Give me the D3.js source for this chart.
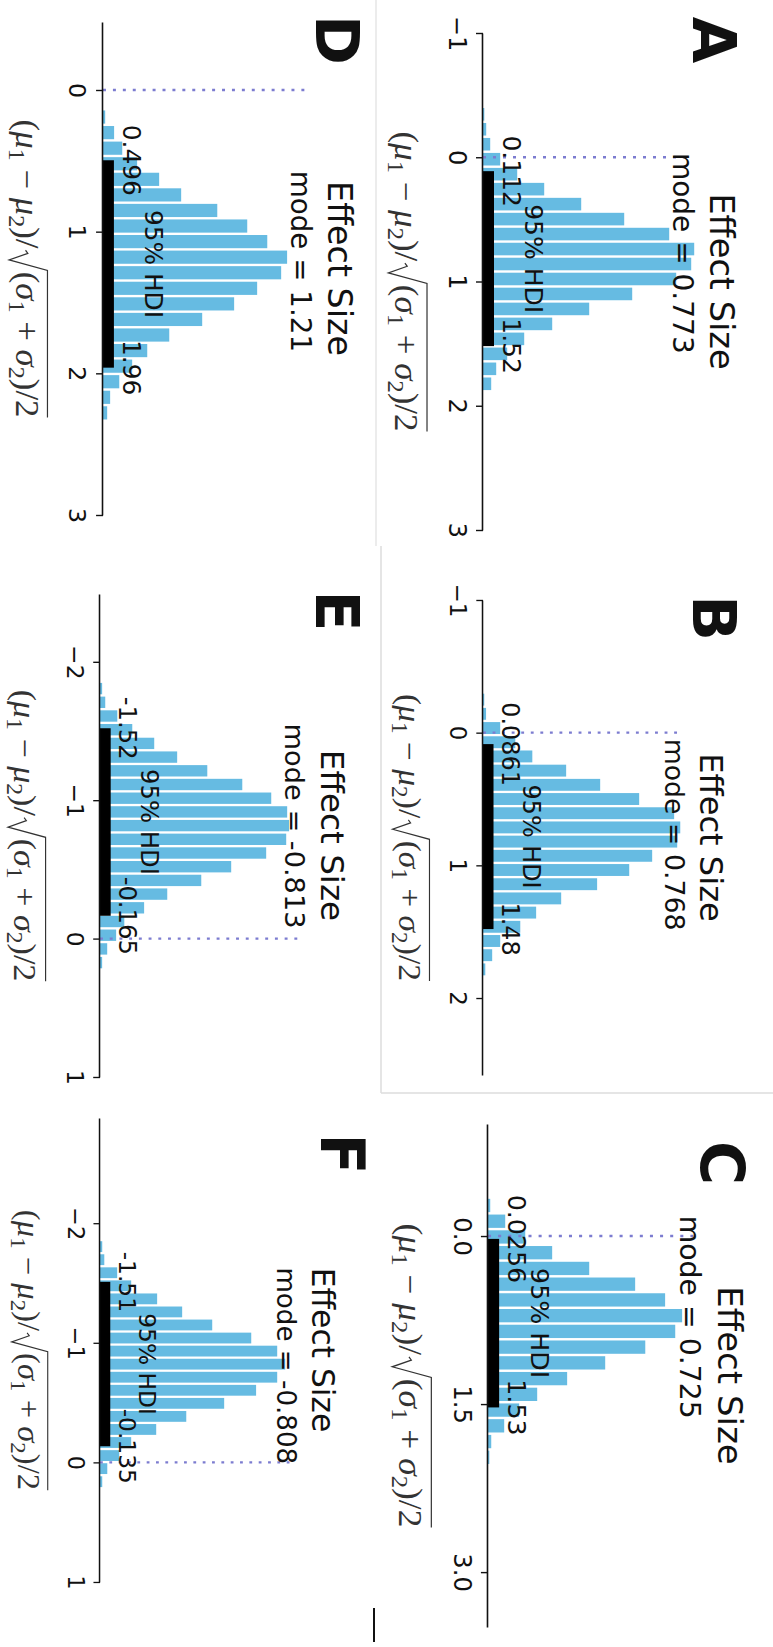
<!DOCTYPE html>
<html><head><meta charset="utf-8">
<script src="https://cdn.jsdelivr.net/npm/d3@7"></script>
<style>body{margin:0;background:#fff}svg{display:block}</style>
</head><body><div id="chart"></div>
<script>
// ---------------- data ----------------
const panelLetters = ["A", "B", "C", "D", "E", "F"];
const xLimits = [[-1, 3], [-1, 2.58], [-1, 3.49], [-0.48, 3], [-2.49, 1], [-2.88, 1]];
const tickValues = [[-1, 0, 1, 2, 3], [-1, 0, 1, 2], [0, 1.5, 3], [0, 1, 2, 3], [-2, -1, 0, 1], [-2, -1, 0, 1]];
const tickLabels = [["−1", "0", "1", "2", "3"], ["−1", "0", "1", "2"], ["0.0", "1.5", "3.0"], ["0", "1", "2", "3"], ["−2", "−1", "0", "1"], ["−2", "−1", "0", "1"]];
const modeValues = [0.773, 0.768, 0.725, 1.21, -0.813, -0.808];
const modeLabels = ["0.773", "0.768", "0.725", "1.21", "-0.813", "-0.808"];
const hdiLow = [0.112, 0.0861, 0.0256, 0.496, -1.52, -1.51];
const hdiHigh = [1.52, 1.48, 1.53, 1.96, -0.165, -0.135];
const hdiLowLabels = ["0.112", "0.0861", "0.0256", "0.496", "-1.52", "-1.51"];
const hdiHighLabels = ["1.52", "1.48", "1.53", "1.96", "-0.165", "-0.135"];
const compValue = 0;
const binStart = [-0.406, -0.3025, -0.343, 0.136, -1.856, -1.859];
const binWidth = [0.1205, 0.107, 0.1405, 0.1099, 0.099, 0.1092];
const densA = [0.01, 0.02, 0.04, 0.09, 0.175, 0.31, 0.495, 0.71, 0.935, 1.06, 1.045, 0.97, 0.75, 0.535, 0.35, 0.21, 0.125, 0.07, 0.045];
const densB = [0.01, 0.02, 0.094, 0.173, 0.262, 0.439, 0.617, 0.821, 1.004, 1.036, 1.02, 0.889, 0.769, 0.601, 0.413, 0.282, 0.199, 0.094, 0.052, 0.016];
const densC = [0.015, 0.089, 0.188, 0.321, 0.504, 0.731, 0.879, 0.963, 0.929, 0.781, 0.583, 0.395, 0.247, 0.158, 0.084, 0.02, 0.01];
const densD = [0.015, 0.06, 0.101, 0.176, 0.287, 0.398, 0.58, 0.731, 0.832, 0.932, 0.902, 0.781, 0.665, 0.504, 0.338, 0.227, 0.151, 0.086, 0.04, 0.025];
const densE = [0.015, 0.031, 0.093, 0.17, 0.283, 0.401, 0.556, 0.736, 0.885, 0.967, 0.977, 0.962, 0.859, 0.679, 0.525, 0.35, 0.231, 0.129, 0.087, 0.041, 0.015];
const densF = [0.016, 0.027, 0.096, 0.171, 0.31, 0.444, 0.605, 0.814, 0.953, 0.996, 0.953, 0.84, 0.669, 0.466, 0.305, 0.171, 0.107, 0.043, 0.016];
const densities = [densA, densB, densC, densD, densE, densF];

// ---------------- layout (page coordinates of each panel's x axis) ----------------
const layout = [
  {axisX: 483, y0: 33, y1: 530, letter: [714, 40]},
  {axisX: 483, y0: 600, y1: 1075, letter: [714, 618]},
  {axisX: 488, y0: 1124, y1: 1627, letter: [722, 1163]},
  {axisX: 103, y0: 22, y1: 515, letter: [337, 40]},
  {axisX: 100, y0: 594, y1: 1077, letter: [337, 611]},
  {axisX: 100, y0: 1118, y1: 1582, letter: [342, 1154]}
];

const W = 773, H = 1647;
const BAR = "#66bbe2", REF = "#7c7cd0";
const FONT = "'DejaVu Sans', sans-serif";
const BASE_L = 497, AX_H = 210, Y_TOP = 1.05;

const svg = d3.select("#chart").append("svg").attr("width", W).attr("height", H);
svg.append("rect").attr("width", W).attr("height", H).attr("fill", "#fff");

// faint frame lines of the composite
svg.append("line").attr("x1", 376).attr("x2", 376).attr("y1", 0).attr("y2", 546).attr("stroke", "#e6e6e6").attr("stroke-width", 1.5);
svg.append("line").attr("x1", 381).attr("x2", 381).attr("y1", 546).attr("y2", 1093).attr("stroke", "#dddddd").attr("stroke-width", 1.5);
svg.append("line").attr("x1", 381).attr("x2", W).attr("y1", 1093).attr("y2", 1093).attr("stroke", "#dddddd").attr("stroke-width", 1.5);
svg.append("line").attr("x1", 374).attr("x2", 374).attr("y1", 1608).attr("y2", 1642).attr("stroke", "#111").attr("stroke-width", 2);

// whole figure rotated 90° clockwise
const root = svg.append("g").attr("transform", `translate(${W},0) rotate(90)`);

function addParts(t, parts, fs) {
  let shifted = false;
  parts.forEach(([s, kind]) => {
    const ts = t.append("tspan").text(s);
    if (kind === "sub") { ts.attr("font-size", fs * 0.7).attr("dy", fs * 0.22).attr("font-style", "normal"); shifted = true; }
    else {
      ts.attr("font-style", kind === "i" ? "italic" : "normal");
      if (shifted) { ts.attr("dy", -fs * 0.22); shifted = false; }
    }
  });
}

function mathLabel(g, cx, baseY, fs, targetW) {
  const lab = g.append("g");
  const t1 = lab.append("text").attr("font-family", "'Liberation Serif','DejaVu Serif',serif")
    .attr("font-size", fs).attr("x", 0).attr("y", baseY).attr("fill", "#333");
  addParts(t1, [["(", ""], ["μ", "i"], ["1", "sub"], [" − ", ""], ["μ", "i"], ["2", "sub"], [")/", ""]], fs);
  const w1 = t1.node().getComputedTextLength();
  const rx = w1 + 0.05 * fs;
  const t2 = lab.append("text").attr("font-family", "'Liberation Serif','DejaVu Serif',serif")
    .attr("font-size", fs).attr("x", rx + 0.62 * fs).attr("y", baseY).attr("fill", "#333");
  addParts(t2, [["(", ""], ["σ", "i"], ["1", "sub"], [" + ", ""], ["σ", "i"], ["2", "sub"], [")/2", ""]], fs);
  const w2 = t2.node().getComputedTextLength();
  const total = rx + 0.62 * fs + w2;
  const top = baseY - 0.97 * fs;
  lab.append("path").attr("fill", "none").attr("stroke", "#333").attr("stroke-width", 1.2)
    .attr("d", `M${rx},${baseY - 0.3 * fs} L${rx + 0.09 * fs},${baseY - 0.37 * fs} L${rx + 0.28 * fs},${baseY + 0.2 * fs} L${rx + 0.58 * fs},${top} L${total},${top}`);
  const s = targetW / total;
  lab.attr("transform", `translate(${cx - targetW / 2},0) scale(${s},1)`);
}

panelLetters.forEach((letter, i) => {
  const lay = layout[i];
  const k = (lay.y1 - lay.y0) / BASE_L;
  const g = root.append("g").attr("transform", `translate(${lay.y0},${W - lay.axisX}) scale(${k})`);
  const x = d3.scaleLinear().domain(xLimits[i]).range([0, BASE_L]);
  const y = d3.scaleLinear().domain([0, Y_TOP]).range([0, -AX_H]);

  const bins = densities[i].map((d, j) => ({x0: binStart[i] + j * binWidth[i], x1: binStart[i] + (j + 1) * binWidth[i], d}));
  g.append("g").selectAll("rect").data(bins).join("rect")
    .attr("x", b => x(b.x0) + 1.2)
    .attr("width", b => Math.max(0, x(b.x1) - x(b.x0) - 2.4))
    .attr("y", b => Math.min(y(b.d) + 0.8, -1.3))
    .attr("height", b => Math.max(1.3, -y(b.d) - 0.8))
    .attr("fill", BAR);

  // reference line at comparison value
  g.append("line").attr("x1", x(compValue)).attr("x2", x(compValue)).attr("y1", 0).attr("y2", y(Y_TOP))
    .attr("stroke", REF).attr("stroke-width", 2.4).attr("stroke-dasharray", "3,7");

  // HDI bar
  g.append("rect").attr("x", x(hdiLow[i])).attr("width", x(hdiHigh[i]) - x(hdiLow[i]))
    .attr("y", -11).attr("height", 11).attr("fill", "#000");

  // axis
  const axis = d3.axisBottom(x).tickValues(tickValues[i]).tickFormat((d, j) => tickLabels[i][j])
    .tickSize(7).tickSizeOuter(0).tickPadding(10);
  const ag = g.append("g").call(axis);
  ag.select(".domain").attr("stroke", "#111").attr("stroke-width", 1.6);
  ag.selectAll(".tick line").attr("stroke", "#111").attr("stroke-width", 1.4);
  ag.selectAll(".tick text").attr("font-family", FONT).attr("font-size", 24).attr("fill", "#111");

  // texts
  g.append("text").attr("x", BASE_L / 2).attr("y", -227).attr("text-anchor", "middle")
    .attr("font-family", FONT).attr("font-size", 33.6).attr("fill", "#111").text("Effect Size");
  g.append("text").attr("x", x(modeValues[i])).attr("y", -190).attr("text-anchor", "middle")
    .attr("font-family", FONT).attr("font-size", 28).attr("fill", "#111").text("mode = " + modeLabels[i]);
  g.append("text").attr("x", x(hdiLow[i])).attr("y", -20).attr("text-anchor", "middle")
    .attr("font-family", FONT).attr("font-size", 25).attr("fill", "#111").text(hdiLowLabels[i]);
  g.append("text").attr("x", x(hdiHigh[i])).attr("y", -20).attr("text-anchor", "middle")
    .attr("font-family", FONT).attr("font-size", 25).attr("fill", "#111").text(hdiHighLabels[i]);
  g.append("text").attr("x", x((hdiLow[i] + hdiHigh[i]) / 2)).attr("y", -42).attr("text-anchor", "middle")
    .attr("font-family", FONT).attr("font-size", 25).attr("fill", "#111").text("95% HDI");

  mathLabel(g, BASE_L / 2, 88, 33, 0.604 * BASE_L);

  // panel letter
  root.append("text").attr("x", lay.letter[1]).attr("y", W - lay.letter[0])
    .attr("text-anchor", "middle").attr("dominant-baseline", "central")
    .attr("font-family", FONT).attr("font-weight", "bold").attr("font-size", 60).attr("fill", "#111")
    .text(letter);
});
</script>
</body></html>
